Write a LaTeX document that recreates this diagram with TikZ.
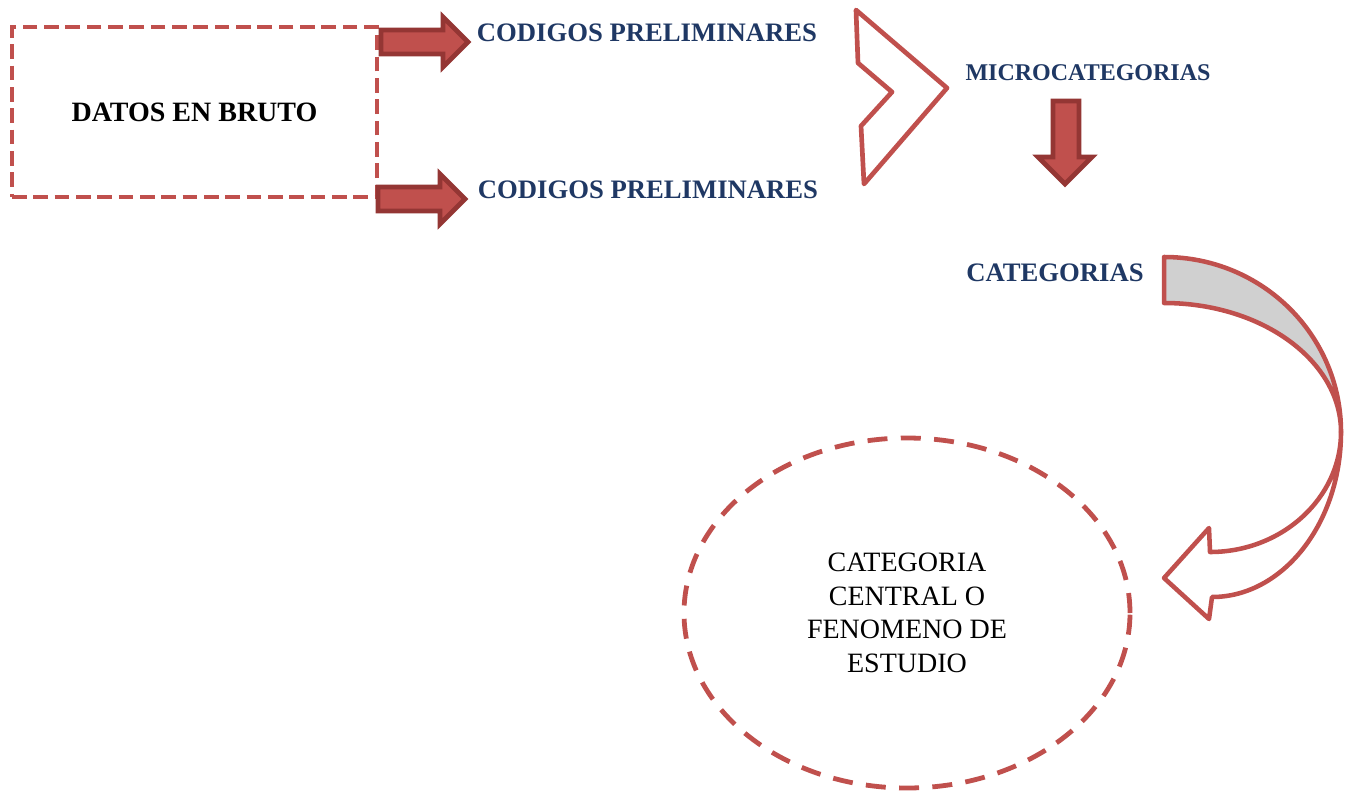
\documentclass[tikz,border=0pt]{standalone}
\usepackage{fontspec}
\setmainfont{Liberation Serif}
\usetikzlibrary{shapes.geometric}
\definecolor{rojo}{HTML}{C0504D}
\definecolor{rojoosc}{HTML}{943634}
\definecolor{azul}{HTML}{1F3864}
\definecolor{gris}{HTML}{D0D0D0}

\begin{document}
\begin{tikzpicture}[x=0.75pt,y=-0.75pt,
    etiq/.style={font=\bfseries\fontsize{20}{24}\selectfont,text=azul,inner sep=0pt},
    flecha/.style={draw=rojoosc,fill=rojo,line width=3.5pt,line join=miter},
    borde/.style={draw=rojo,line width=3.4pt,line join=round}]
      \useasboundingbox (0,0) rectangle (1352,793);
      \node[draw=rojo,line width=3.4pt,dash pattern=on 11pt off 5pt,minimum width=273.75pt,minimum height=127.5pt,inner sep=0pt,font=\bfseries\fontsize{21}{25}\selectfont] (datos) at (194.5,112) {DATOS EN BRUTO};
      \node[etiq] (codigoa) at (647,33) {CODIGOS PRELIMINARES};
      \node[etiq] (codigob) at (648,190) {CODIGOS PRELIMINARES};
      \node[etiq,font=\bfseries\fontsize{18}{22}\selectfont] (micro) at (1088,73) {MICROCATEGORIAS};
      \node[etiq] (cat) at (1055,273) {CATEGORIAS};
      \node[ellipse,draw=rojo,line width=3.6pt,dash pattern=on 15pt off 10pt,minimum width=334.5pt,minimum height=262.5pt,align=center,font=\fontsize{21}{25.2}\selectfont] (central) at (907,613) {CATEGORIA\\CENTRAL O\\FENOMENO DE\\ESTUDIO};
      % flechas de bloque
      \draw[flecha] (381,30) -- (443,30) -- (443,17) -- (468,42) -- (443,67) -- (443,54) -- (381,54) -- cycle;
      \draw[flecha] (378,187) -- (440,187) -- (440,174) -- (465,199) -- (440,224) -- (440,211) -- (378,211) -- cycle;
      \draw[flecha] (1053,101) -- (1079,101) -- (1079,157) -- (1092,157) -- (1065,184) -- (1038,157) -- (1053,157) -- cycle;
      % chevron
      \draw[borde,line width=3.5pt] (856,10) -- (858,63) -- (892,92) -- (861,126) -- (864,184) -- (947,88) -- cycle;
      % flecha curva
      \draw[borde,fill=gris] (1164,257) -- (1164,303) .. controls (1262,303) and (1341,361) .. (1341,432)
        .. controls (1341,335) and (1262,257) .. (1164,257) -- cycle;
      \draw[borde,fill=white] (1341,432) .. controls (1341,498) and (1282,552) .. (1210,552)
        -- (1209,528) -- (1164,578) -- (1209,619) -- (1212,597)
        .. controls (1283,597) and (1341,523) .. (1341,432) -- cycle;
    \end{tikzpicture}
\end{document}
